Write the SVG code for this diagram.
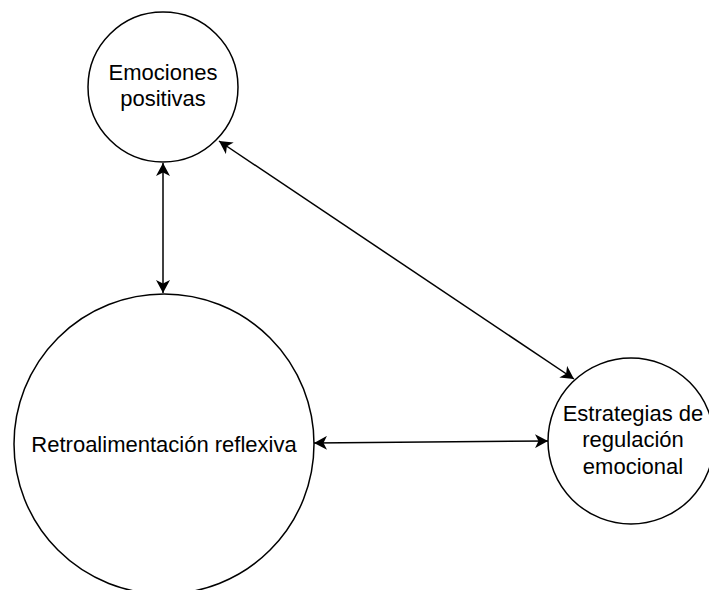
<svg xmlns="http://www.w3.org/2000/svg" width="709" height="590" viewBox="0 0 709 590">
  <style>
    .node { fill: #ffffff; stroke: #000000; stroke-width: 1.5; }
    .label { font-family: "Liberation Sans", Arial, sans-serif; font-size: 22px; fill: #000000; text-anchor: middle; }
    .edge { stroke: #000000; stroke-width: 1.5; fill: none; marker-start: url(#arrow); marker-end: url(#arrow); }
  </style>
  <defs>
    <marker id="arrow" markerUnits="userSpaceOnUse" markerWidth="14" markerHeight="14" refX="13" refY="7" orient="auto-start-reverse" viewBox="0 0 14 14">
      <path d="M13,7 L0,0 L3.5,7 L0,14 Z" fill="#000000" stroke="none"/>
    </marker>
  </defs>
  <rect x="0" y="0" width="709" height="590" fill="#ffffff"/>
  <g id="connectors">
    <line class="edge" x1="163" y1="163" x2="163" y2="293"/>
    <line class="edge" x1="219" y1="141" x2="574" y2="379"/>
    <line class="edge" x1="314" y1="443" x2="548" y2="441"/>
  </g>
  <g id="node-emociones">
    <circle class="node" cx="163" cy="87" r="75"/>
    <text class="label" x="163" y="80">Emociones</text>
    <text class="label" x="163" y="106">positivas</text>
  </g>
  <g id="node-retro">
    <circle class="node" cx="164" cy="444" r="150"/>
    <text class="label" x="164" y="452">Retroalimentación reflexiva</text>
  </g>
  <g id="node-estrategias">
    <circle class="node" cx="631" cy="441" r="83"/>
    <text class="label" x="633" y="421">Estrategias de</text>
    <text class="label" x="633" y="447">regulación</text>
    <text class="label" x="633" y="474">emocional</text>
  </g>
</svg>
